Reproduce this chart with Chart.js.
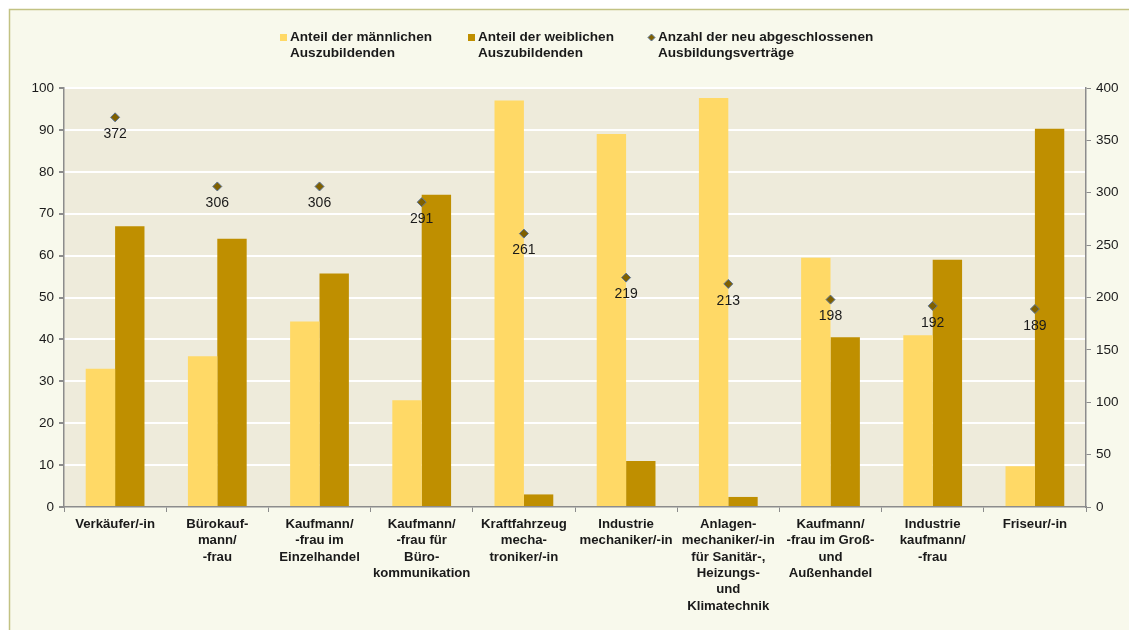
<!DOCTYPE html>
<html>
<head>
<meta charset="utf-8">
<script src="https://cdn.jsdelivr.net/npm/chart.js"></script>
<style>
  html, body { margin: 0; padding: 0; background: #fff; }
  #wrap { width: 1129px; height: 630px; }
</style>
</head>
<body>
<div id="wrap"><canvas id="ausbildungChart" width="1129" height="630"></canvas></div>
<script>
// Categories (multi-line labels as shown under the x axis)
const berufe = [
    ['Verkäufer/-in'],
    ['Bürokauf-', 'mann/', '-frau'],
    ['Kaufmann/', '-frau im', 'Einzelhandel'],
    ['Kaufmann/', '-frau für', 'Büro-', 'kommunikation'],
    ['Kraftfahrzeug', 'mecha-', 'troniker/-in'],
    ['Industrie', 'mechaniker/-in'],
    ['Anlagen-', 'mechaniker/-in', 'für Sanitär-,', 'Heizungs-', 'und', 'Klimatechnik'],
    ['Kaufmann/', '-frau im Groß-', 'und', 'Außenhandel'],
    ['Industrie', 'kaufmann/', '-frau'],
    ['Friseur/-in']
];

// Anteile in Prozent (linke Achse)
const anteilMaennlich = [33, 36, 44.3, 25.5, 97, 89, 97.6, 59.5, 41, 9.7];
const anteilWeiblich  = [67, 64, 55.7, 74.5, 3, 11, 2.4, 40.5, 59, 90.3];

// Anzahl der neu abgeschlossenen Verträge (rechte Achse)
const anzahlVertraege = [372, 306, 306, 291, 261, 219, 213, 198, 192, 189];

const legendLabels = [
    ['Anteil der männlichen', 'Auszubildenden'],
    ['Anteil der weiblichen', 'Auszubildenden'],
    ['Anzahl der neu abgeschlossenen', 'Ausbildungsverträge']
];

const FONT = 'Arial, "Liberation Sans", sans-serif';

// background: white margin, cream frame, plot area fill
const backgroundPlugin = {
    id: 'background',
    beforeDraw(chart) {
        const ctx = chart.ctx;
        const a = chart.chartArea;
        ctx.save();
        ctx.fillStyle = '#ffffff';
        ctx.fillRect(0, 0, chart.width, chart.height);
        ctx.fillStyle = '#F8F9EC';
        ctx.fillRect(9, 9, chart.width, chart.height);
        ctx.strokeStyle = '#C2C283';
        ctx.lineWidth = 1.5;
        ctx.beginPath();
        ctx.moveTo(9.5, chart.height);
        ctx.lineTo(9.5, 9.5);
        ctx.lineTo(chart.width, 9.5);
        ctx.stroke();
        ctx.fillStyle = '#EEEBDB';
        ctx.fillRect(a.left, a.top, a.right - a.left, a.bottom - a.top);
        ctx.restore();
    }
};

// legend with two-line labels
const legendPlugin = {
    id: 'zweizeilenLegende',
    afterDraw(chart) {
        const ctx = chart.ctx;
        const xs = [280, 468, 648];
        ctx.save();
        ctx.font = 'bold 13.6px ' + FONT;
        ctx.fillStyle = '#1a1a1a';
        ctx.textBaseline = 'middle';
        ctx.textAlign = 'left';
        chart.data.datasets.forEach((ds, i) => {
            const x = xs[i];
            if (ds.type === 'line') {
                ctx.save();
                ctx.fillStyle = ds.pointBackgroundColor;
                ctx.strokeStyle = ds.pointBorderColor;
                ctx.lineWidth = 1;
                ctx.beginPath();
                ctx.moveTo(x + 3.5, 34);
                ctx.lineTo(x + 7, 37.5);
                ctx.lineTo(x + 3.5, 41);
                ctx.lineTo(x, 37.5);
                ctx.closePath();
                ctx.fill();
                ctx.stroke();
                ctx.restore();
            } else {
                ctx.save();
                ctx.fillStyle = ds.backgroundColor;
                ctx.fillRect(x, 34, 7, 7);
                ctx.restore();
            }
            legendLabels[i].forEach((line, j) => {
                ctx.fillText(line, x + 10, 37 + j * 16);
            });
        });
        ctx.restore();
    }
};

// value labels below the diamonds
const valueLabelPlugin = {
    id: 'werte',
    afterDatasetsDraw(chart) {
        const ctx = chart.ctx;
        const meta = chart.getDatasetMeta(2);
        ctx.save();
        ctx.font = '14px ' + FONT;
        ctx.fillStyle = '#1a1a1a';
        ctx.textAlign = 'center';
        ctx.textBaseline = 'middle';
        meta.data.forEach((pt, i) => {
            ctx.fillText(String(anzahlVertraege[i]), pt.x, pt.y + 17);
        });
        ctx.restore();
    }
};

let ausbildungChart;

function initializeChart() {
    const ctx = document.getElementById('ausbildungChart').getContext('2d');

    ausbildungChart = new Chart(ctx, {
        type: 'bar',
        data: {
            labels: berufe,
            datasets: [{
                label: 'Anteil der männlichen Auszubildenden',
                data: anteilMaennlich,
                backgroundColor: '#FFD966',
                yAxisID: 'y',
                order: 1,
                categoryPercentage: 0.575,
                barPercentage: 1.0
            }, {
                label: 'Anteil der weiblichen Auszubildenden',
                data: anteilWeiblich,
                backgroundColor: '#BF8F00',
                yAxisID: 'y',
                order: 1,
                categoryPercentage: 0.575,
                barPercentage: 1.0
            }, {
                type: 'line',
                label: 'Anzahl der neu abgeschlossenen Ausbildungsverträge',
                data: anzahlVertraege,
                yAxisID: 'y1',
                showLine: false,
                pointStyle: 'rectRot',
                pointRadius: 4.5,
                pointBackgroundColor: '#7F6000',
                pointBorderColor: '#5A7396',
                pointBorderWidth: 1,
                order: 0
            }]
        },
        options: {
            responsive: false,
            animation: false,
            layout: { padding: { top: 88, left: 0, right: 0, bottom: 0 } },
            plugins: {
                legend: { display: false },
                tooltip: { enabled: false }
            },
            scales: {
                x: {
                    offset: true,
                    afterFit: (scale) => { scale.height = 123; },
                    grid: {
                        offset: true,
                        drawOnChartArea: false,
                        drawTicks: true,
                        tickLength: 5,
                        tickColor: '#8c8c8c'
                    },
                    border: { color: '#8c8c8c', width: 1.5 },
                    ticks: {
                        color: '#1a1a1a',
                        font: { family: FONT, size: 13.2, weight: 'bold', lineHeight: 1.24 },
                        padding: 4,
                        maxRotation: 0,
                        autoSkip: false
                    }
                },
                y: {
                    position: 'left',
                    min: 0,
                    max: 100,
                    afterFit: (scale) => { scale.width = 64; },
                    grid: {
                        color: (c) => (c.tick && c.tick.value === 0) ? 'rgba(0,0,0,0)' : '#ffffff',
                        lineWidth: 2,
                        tickLength: 5,
                        tickColor: '#8c8c8c'
                    },
                    border: { color: '#8c8c8c', width: 1.5 },
                    ticks: {
                        stepSize: 10,
                        color: '#1a1a1a',
                        font: { family: FONT, size: 13.5 },
                        padding: 5
                    }
                },
                y1: {
                    position: 'right',
                    min: 0,
                    max: 400,
                    afterFit: (scale) => { scale.width = 43; },
                    grid: {
                        drawOnChartArea: false,
                        tickLength: 5,
                        tickColor: '#8c8c8c'
                    },
                    border: { color: '#8c8c8c', width: 1.5 },
                    ticks: {
                        stepSize: 50,
                        color: '#1a1a1a',
                        font: { family: FONT, size: 13.5 },
                        padding: 5
                    }
                }
            }
        },
        plugins: [backgroundPlugin, legendPlugin, valueLabelPlugin]
    });
}

document.addEventListener('DOMContentLoaded', () => {
    initializeChart();
});
</script>
</body>
</html>
